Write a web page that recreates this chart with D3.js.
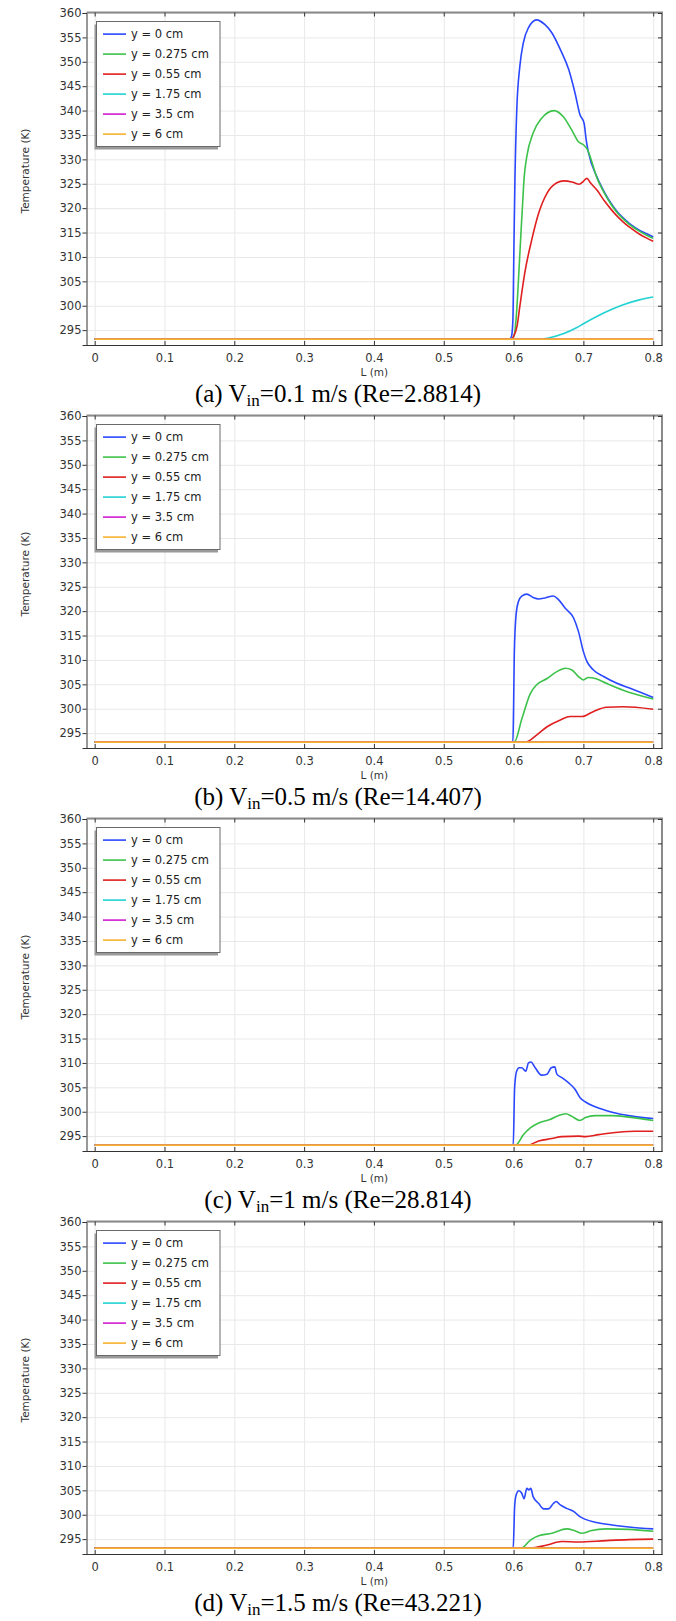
<!DOCTYPE html>
<html>
<head>
<meta charset="utf-8">
<script src="https://cdn.jsdelivr.net/npm/d3@7"></script>
<style>
body { margin: 0; background: #fff; }
svg { display: block; }
</style>
</head>
<body>
<svg id="chart" width="676" height="1621"></svg>
<script>
// ambient temperature (K) and plot axes
var ambient = 293.15;
var xTicks = [0, 0.1, 0.2, 0.3, 0.4, 0.5, 0.6, 0.7, 0.8];
var xTickLabels = ["0", "0.1", "0.2", "0.3", "0.4", "0.5", "0.6", "0.7", "0.8"];
var yTicks = [295, 300, 305, 310, 315, 320, 325, 330, 335, 340, 345, 350, 355, 360];

var seriesLabels = ["y = 0 cm", "y = 0.275 cm", "y = 0.55 cm", "y = 1.75 cm", "y = 3.5 cm", "y = 6 cm"];
var seriesColors = ["#2a48ff", "#3cc24a", "#e01f1f", "#22d2d2", "#d21cd2", "#f7b22e"];

var captionTags = ["(a)", "(b)", "(c)", "(d)"];
var captionVin = ["0.1 m/s", "0.5 m/s", "1 m/s", "1.5 m/s"];
var captionRe = ["2.8814", "14.407", "28.814", "43.221"];

var flat = [[0, ambient], [0.8, ambient]];

// (a) Vin = 0.1 m/s
var a_y0 = [[0, ambient], [0.594, ambient], [0.597, 293.7], [0.599, 297], [0.6005, 312], [0.602, 326], [0.6046, 340.2],
  [0.609, 349.1], [0.614, 353.9], [0.621, 356.9], [0.633, 358.6], [0.645, 357.6], [0.655, 355.9], [0.667, 352.5],
  [0.679, 348.4], [0.688, 343.6], [0.695, 339.2], [0.701, 337.4], [0.704, 334.0], [0.707, 331.6], [0.72, 326.2],
  [0.73, 323.3], [0.74, 320.9], [0.75, 319.0], [0.76, 317.6], [0.77, 316.4], [0.78, 315.5], [0.79, 314.8], [0.8, 314.1]];
var a_y0275 = [[0, ambient], [0.597, ambient], [0.601, 294], [0.604, 298], [0.607, 305.3], [0.611, 316], [0.613, 321],
  [0.615, 326], [0.619, 330.6], [0.628, 335.4], [0.64, 338.4], [0.658, 340.0], [0.671, 338.8], [0.683, 336.1],
  [0.693, 333.6], [0.7, 333.0], [0.705, 332.2], [0.72, 326.0], [0.73, 323.1], [0.74, 320.7], [0.75, 318.8],
  [0.76, 317.4], [0.77, 316.2], [0.78, 315.3], [0.79, 314.5], [0.8, 313.8]];
var a_y055 = [[0, ambient], [0.597, ambient], [0.6, 293.7], [0.605, 295.8], [0.609, 299.9], [0.616, 306.7],
  [0.626, 313.5], [0.636, 319.0], [0.648, 323.1], [0.662, 325.2], [0.672, 325.6], [0.685, 325.3], [0.694, 324.9],
  [0.7, 325.5], [0.705, 326.1], [0.71, 325.2], [0.72, 323.6], [0.73, 321.5], [0.74, 319.7], [0.75, 318.1],
  [0.76, 316.8], [0.77, 315.7], [0.78, 314.7], [0.79, 313.9], [0.8, 313.2]];
var a_y175 = [[0, ambient], [0.635, ambient], [0.65, 293.4], [0.672, 294.3], [0.69, 295.5], [0.7, 296.3],
  [0.729, 298.5], [0.757, 300.2], [0.78, 301.2], [0.8, 301.8]];

// (b) Vin = 0.5 m/s
var b_y0 = [[0, ambient], [0.599, ambient], [0.6, 300], [0.601, 311.0], [0.6036, 319.3], [0.607, 322.0],
  [0.6117, 323.1], [0.619, 323.5], [0.628, 322.8], [0.636, 322.5], [0.645, 322.7], [0.657, 323.1], [0.664, 322.4],
  [0.674, 320.6], [0.686, 318.6], [0.693, 315.8], [0.7, 311.7], [0.705, 309.7], [0.714, 308.0], [0.729, 306.6],
  [0.748, 305.2], [0.767, 304.2], [0.8, 302.3]];
var b_y0275 = [[0, ambient], [0.601, ambient], [0.612, 298.0], [0.624, 303.1], [0.633, 304.9], [0.648, 306.2],
  [0.662, 307.6], [0.674, 308.3], [0.683, 308.0], [0.693, 306.6], [0.7, 305.9], [0.707, 306.4], [0.717, 306.2],
  [0.733, 305.2], [0.757, 303.8], [0.8, 302.0]];
var b_y055 = [[0, ambient], [0.617, ambient], [0.633, 294.6], [0.648, 296.3], [0.667, 297.7], [0.681, 298.4],
  [0.698, 298.4], [0.714, 299.4], [0.733, 300.3], [0.757, 300.4], [0.8, 299.9]];

// (c) Vin = 1 m/s
var c_y0 = [[0, ambient], [0.5995, ambient], [0.6015, 304.9], [0.6044, 308.3], [0.608, 309.0], [0.6117, 309.0],
  [0.6175, 308.3], [0.6213, 310.0], [0.625, 310.2], [0.631, 309.0], [0.64, 307.5], [0.648, 307.7], [0.654, 309.0],
  [0.659, 309.2], [0.662, 307.7], [0.669, 307.0], [0.679, 305.9], [0.688, 304.6], [0.695, 302.9], [0.703, 302.0],
  [0.717, 301.0], [0.741, 299.9], [0.765, 299.2], [0.8, 298.6]];
var c_y0275 = [[0, ambient], [0.603, ambient], [0.614, 295.3], [0.624, 296.7], [0.636, 297.7], [0.652, 298.4],
  [0.664, 299.2], [0.675, 299.6], [0.683, 299.1], [0.695, 298.2], [0.703, 298.8], [0.717, 299.2], [0.741, 299.2],
  [0.765, 298.9], [0.8, 298.2]];
var c_y055 = [[0, ambient], [0.62, ambient], [0.636, 294.0], [0.655, 294.5], [0.669, 294.9], [0.693, 295.0],
  [0.703, 294.9], [0.722, 295.3], [0.75, 295.8], [0.774, 296.0], [0.8, 296.0]];

// (d) Vin = 1.5 m/s
var d_y0 = [[0, ambient], [0.5995, ambient], [0.6015, 301.6], [0.6036, 304.0], [0.6075, 304.9], [0.6117, 304.4],
  [0.615, 303.3], [0.619, 305.4], [0.622, 305.1], [0.6247, 305.4], [0.628, 303.7], [0.636, 302.3], [0.643, 301.2],
  [0.65, 301.2], [0.657, 302.3], [0.661, 302.7], [0.667, 302.0], [0.676, 301.3], [0.686, 300.7], [0.695, 299.6],
  [0.702, 299.1], [0.719, 298.4], [0.741, 297.9], [0.765, 297.5], [0.8, 297.1]];
var d_y0275 = [[0, ambient], [0.611, ambient], [0.624, 294.8], [0.636, 295.7], [0.655, 296.2], [0.676, 297.1],
  [0.688, 296.7], [0.698, 296.2], [0.71, 296.7], [0.733, 297.1], [0.765, 297.0], [0.8, 296.6]];
var d_y055 = [[0, ambient], [0.624, ambient], [0.648, 293.8], [0.669, 294.5], [0.693, 294.4], [0.733, 294.7],
  [0.765, 294.9], [0.8, 295.0]];

// table per panel, in legend order
var panelSeries = [
  [a_y0, a_y0275, a_y055, a_y175, flat, flat],
  [b_y0, b_y0275, b_y055, flat, flat, flat],
  [c_y0, c_y0275, c_y055, flat, flat, flat],
  [d_y0, d_y0275, d_y055, flat, flat, flat]
];

var svg = d3.select("#chart");
svg.append("rect").attr("width", 676).attr("height", 1621).attr("fill", "#fff");

var left = 86.5, right = 662, top0 = 12.5, bottom0 = 345, step = 403;
var font = "'DejaVu Sans', sans-serif";

var x = d3.scaleLinear().domain([-0.0117, 0.8126]).range([left, right]);
var y = d3.scaleLinear().domain([291.95, 360]).range([bottom0, 13]);

var line = d3.line()
  .x(function(d) { return x(d[0]); })
  .y(function(d) { return y(d[1]); })
  .curve(d3.curveMonotoneX);

svg.append("defs").append("clipPath").attr("id", "plotclip")
  .append("rect").attr("x", left).attr("y", top0).attr("width", right - left).attr("height", bottom0 - top0);

panelSeries.forEach(function(series, p) {
  var g = svg.append("g").attr("transform", "translate(0," + (p * step) + ")");

  // grid
  g.append("g").attr("class", "grid")
    .attr("transform", "translate(0," + bottom0 + ")")
    .call(d3.axisBottom(x).tickValues(xTicks).tickSize(-(bottom0 - top0)).tickFormat(""))
    .call(function(s) { s.select(".domain").remove(); });
  g.append("g").attr("class", "grid")
    .attr("transform", "translate(" + left + ",0)")
    .call(d3.axisLeft(y).tickValues(yTicks).tickSize(-(right - left)).tickFormat(""))
    .call(function(s) { s.select(".domain").remove(); });
  g.selectAll(".grid line").attr("stroke", "#e8e8e8").attr("stroke-width", 1);

  // curves
  var curves = g.append("g").attr("clip-path", "url(#plotclip)");
  series.forEach(function(pts, i) {
    curves.append("path")
      .attr("d", line(pts))
      .attr("fill", "none")
      .attr("stroke", seriesColors[i])
      .attr("stroke-width", 1.6)
      .attr("stroke-linejoin", "round");
  });

  // frame top and right
  g.append("line").attr("x1", left).attr("x2", right + 1).attr("y1", top0).attr("y2", top0)
    .attr("stroke", "#8a8a8a").attr("stroke-width", 2);
  g.append("line").attr("x1", right).attr("x2", right).attr("y1", top0).attr("y2", bottom0 + 1)
    .attr("stroke", "#8a8a8a").attr("stroke-width", 2);

  g.append("g").attr("transform", "translate(0," + top0 + ")")
    .call(d3.axisTop(x).tickValues(xTicks).tickSizeInner(-4).tickSizeOuter(0).tickFormat(""))
    .call(function(s) { s.select(".domain").remove(); s.selectAll("line").attr("stroke", "#333"); });
  g.append("g").attr("transform", "translate(" + right + ",0)")
    .call(d3.axisRight(y).tickValues(yTicks).tickSizeInner(-4).tickSizeOuter(0).tickFormat(""))
    .call(function(s) { s.select(".domain").remove(); s.selectAll("line").attr("stroke", "#333"); });

  // axes
  var xa = g.append("g").attr("transform", "translate(0," + bottom0 + ")")
    .call(d3.axisBottom(x).tickValues(xTicks).tickSizeInner(-4).tickSizeOuter(0).tickPadding(9)
      .tickFormat(function(d, i) { return xTickLabels[i]; }));
  var ya = g.append("g").attr("transform", "translate(" + left + ",0)")
    .call(d3.axisLeft(y).tickValues(yTicks).tickSize(4).tickPadding(1));
  [xa, ya].forEach(function(a) {
    a.select(".domain").attr("stroke", "#333");
    a.selectAll("line").attr("stroke", "#333");
    a.selectAll("text").attr("font-family", font).attr("font-size", 11.5).attr("fill", "#333");
  });

  // axis titles
  g.append("text")
    .attr("transform", "translate(29,171) rotate(-90)")
    .attr("text-anchor", "middle")
    .attr("font-family", font).attr("font-size", 10.5).attr("fill", "#333")
    .text("Temperature (K)");
  g.append("text")
    .attr("x", (left + right) / 2).attr("y", 376)
    .attr("text-anchor", "middle")
    .attr("font-family", font).attr("font-size", 10.5).attr("fill", "#333")
    .text("L (m)");

  // legend
  var lx = 96.5, ly = 21.5, lw = 123.5, lh = 125;
  g.append("rect").attr("x", lx - 2).attr("y", ly + 3).attr("width", lw).attr("height", lh).attr("fill", "#9a9a9a");
  g.append("rect").attr("x", lx).attr("y", ly).attr("width", lw).attr("height", lh)
    .attr("fill", "#fff").attr("stroke", "#6a6a6a").attr("stroke-width", 1);
  seriesLabels.forEach(function(lab, i) {
    var cy = ly + 12.6 + i * 20;
    g.append("line").attr("x1", lx + 6.5).attr("x2", lx + 29.5).attr("y1", cy).attr("y2", cy)
      .attr("stroke", seriesColors[i]).attr("stroke-width", 1.6);
    g.append("text").attr("x", lx + 34.5).attr("y", cy + 4.2)
      .attr("font-family", font).attr("font-size", 11.5).attr("fill", "#222")
      .text(lab);
  });

  // caption
  var cap = g.append("text")
    .attr("x", 338).attr("y", 402)
    .attr("text-anchor", "middle")
    .attr("font-family", "'Liberation Serif', 'Times New Roman', serif")
    .attr("font-size", 25).attr("fill", "#000");
  cap.append("tspan").text(captionTags[p] + " V");
  cap.append("tspan").attr("font-size", 17).attr("dy", 4).text("in");
  cap.append("tspan").attr("dy", -4).text("=" + captionVin[p] + " (Re=" + captionRe[p] + ")");
});
</script>
</body>
</html>
